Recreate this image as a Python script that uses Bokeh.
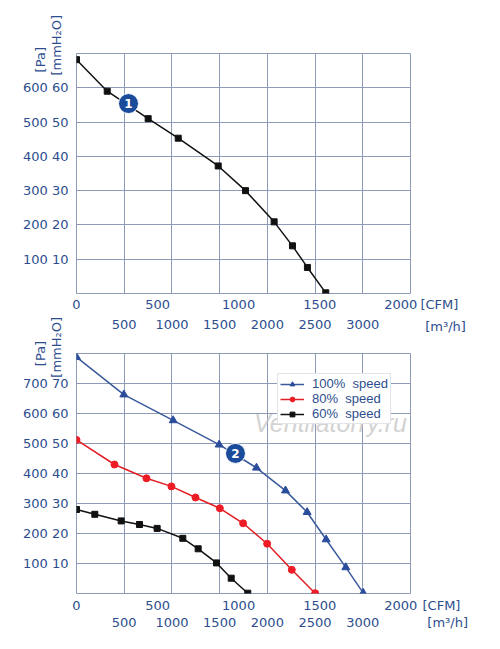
from bokeh.plotting import figure
from bokeh.models import FixedTicker, LinearAxis, Label, Range1d
from bokeh.layouts import column
from bokeh.embed import file_html
from bokeh.resources import INLINE
from bokeh.core.properties import value

# ---------------- data (x in m3/h, y in mmH2O) ----------------
fan1_flow = [0, 322, 751, 1066, 1485, 1771, 2071, 2263, 2420, 2612]
fan1_press = [68.2, 59.0, 51.0, 45.3, 37.2, 30.0, 20.9, 13.9, 7.6, 0.2]

s100_flow = [0, 496, 1013, 1495, 1886, 2190, 2417, 2616, 2822, 3004]
s100_press = [78.8, 66.3, 57.7, 49.6, 41.9, 34.3, 27.1, 18.0, 8.7, 0.2]

s80_flow = [0, 398, 733, 995, 1247, 1502, 1746, 1998, 2256, 2501]
s80_press = [51.2, 43.0, 38.4, 35.7, 32.0, 28.4, 23.4, 16.6, 7.9, 0.1]

s60_flow = [0, 192, 468, 660, 845, 1114, 1275, 1467, 1621, 1795]
s60_press = [28.0, 26.4, 24.2, 23.0, 21.7, 18.4, 14.9, 10.2, 5.1, 0.1]

m3h_ticks = [0, 500, 1000, 1500, 2000, 2500, 3000, 3500]
m3h_labels = ["", "500", "1000", "1500", "2000", "2500", "3000", ""]
cfm_values = [0, 500, 1000, 1500, 2000]
CFM_TO_M3H = 1.699

top_mm_ticks = [0, 10, 20, 30, 40, 50, 60, 70]
top_labels = ["", "100 10", "200 20", "300 30", "400 40", "500 50", "600 60", ""]
bot_mm_ticks = [0, 10, 20, 30, 40, 50, 60, 70, 80]
bot_labels = ["", "100 10", "200 20", "300 30", "400 40", "500 50", "600 60", "700 70", ""]

legend_labels = ["100%  speed", "80%  speed", "60%  speed"]

FONT = "DejaVu Sans"
TXT = "#2d4e8e"
GRID = "#8e9bb8"
NB = "\u00a0"


def style_axis(a):
    a.axis_line_color = None
    a.major_tick_line_color = None
    a.minor_tick_line_color = None
    a.major_tick_out = 0
    a.major_tick_in = 0
    a.major_label_text_color = TXT
    a.major_label_text_font = FONT
    a.major_label_text_font_size = "13px"


def style_label(a, text, standoff):
    a.axis_label = text
    a.axis_label_standoff = standoff
    a.axis_label_align = "end"
    a.axis_label_text_color = TXT
    a.axis_label_text_font = FONT
    a.axis_label_text_font_size = "13px"
    a.axis_label_text_font_style = "normal"


def m3h_axis(standoff, label, label_standoff):
    a = LinearAxis(ticker=FixedTicker(ticks=m3h_ticks),
                   major_label_overrides={t: l for t, l in zip(m3h_ticks, m3h_labels)})
    style_axis(a)
    a.major_label_standoff = standoff
    style_label(a, label, label_standoff)
    return a


def base_fig(height, ymax, yticks, ylabels, top, bottom, cfm_label, cfm_standoff, mm_label, pa_label):
    p = figure(width=500, height=height, x_range=Range1d(0, 3500), y_range=Range1d(0, ymax),
               output_backend="svg", toolbar_location=None,
               min_border_left=76, min_border_right=90, min_border_top=top, min_border_bottom=bottom)
    p.background_fill_color = "white"
    p.border_fill_color = "white"
    p.outline_line_color = GRID
    p.outline_line_width = 1

    ax = p.xaxis[0]
    cfm_pos = [c * CFM_TO_M3H for c in cfm_values]
    ax.ticker = FixedTicker(ticks=cfm_pos)
    ax.major_label_overrides = {pos: str(c) for pos, c in zip(cfm_pos, cfm_values)}
    style_axis(ax)
    ax.major_label_standoff = cfm_standoff
    style_label(ax, cfm_label, -15)

    ya = p.yaxis[0]
    ya.ticker = FixedTicker(ticks=yticks)
    ya.major_label_overrides = {t: l for t, l in zip(yticks, ylabels)}
    style_axis(ya)
    ya.major_label_standoff = 8

    mm = LinearAxis(ticker=FixedTicker(ticks=[]), axis_line_color=None)
    style_label(mm, mm_label, -43)
    p.add_layout(mm, "left")
    pa = LinearAxis(ticker=FixedTicker(ticks=[]), axis_line_color=None)
    style_label(pa, pa_label, -27)
    p.add_layout(pa, "left")

    p.xgrid.ticker = FixedTicker(ticks=m3h_ticks)
    p.ygrid.ticker = FixedTicker(ticks=yticks)
    for g in (p.xgrid, p.ygrid):
        g.grid_line_color = GRID
        g.grid_line_width = 1
    return p


def bubble(p, x, y, t):
    p.scatter([x], [y], marker="circle", size=20, fill_color="#1b4b9b", line_color="white", line_width=1)
    p.text([x], [y], text=[t], text_color="white", text_font=value(FONT), text_font_size="12px",
           text_font_style="bold", text_align="center", text_baseline="middle")


# ---------------- top chart ----------------
p1 = base_fig(314, 70, top_mm_ticks, top_labels, 53, 21, NB * 14 + "[CFM]", 6,
              NB * 4 + "[mmH₂O]", "[Pa]" + NB * 3)
p1.line(fan1_flow, fan1_press, line_color="#111111", line_width=1.5)
p1.scatter(fan1_flow, fan1_press, marker="square", size=6, fill_color="#111111", line_color="#111111")
bubble(p1, 545, 55.4, "1")

# ---------------- bottom chart ----------------
p2 = base_fig(334, 80, bot_mm_ticks, bot_labels, 39, 55, NB * 15 + "[CFM]", 7,
              NB * 3 + "[mmH₂O]", "[Pa]")
# m3/h row of the upper chart (same x scale), drawn in the band between the two charts
p2.add_layout(m3h_axis(25, NB * 17 + "[m³/h]", -17), "above")
# m3/h row of the lower chart
p2.add_layout(m3h_axis(2, NB * 18 + "[m³/h]", -15), "below")

series = [
    (s100_flow, s100_press, "#3a5a9c", "#2a4d9b", "triangle", 8),
    (s80_flow, s80_press, "#e31e24", "#ee1c25", "circle", 7),
    (s60_flow, s60_press, "#111111", "#111111", "square", 6),
]
for (fx, fy, lc, mc, mk, sz), lab in zip(series, legend_labels):
    p2.line(fx, fy, line_color=lc, line_width=1.5, legend_label=lab)
    p2.scatter(fx, fy, marker=mk, size=sz, fill_color=mc, line_color=mc, legend_label=lab)
bubble(p2, 1666, 46.7, "2")

lg = p2.legend[0]
lg.location = (201, 169)
lg.label_text_color = TXT
lg.label_text_font = "Liberation Sans"
lg.label_text_font_size = "13px"
lg.label_height = 12
lg.glyph_height = 12
lg.glyph_width = 24
lg.spacing = 0
lg.padding = 2
lg.margin = 0
lg.label_standoff = 8
lg.border_line_color = "#c5cad6"
lg.background_fill_alpha = 1.0

p2.add_layout(Label(x=254, y=171, x_units="screen", y_units="screen", text="Ventilatorry.ru",
                    text_align="center", text_baseline="middle",
                    text_color="#c4c4c4", text_alpha=0.75, text_font="Liberation Sans",
                    text_font_style="italic", text_font_size="25px"))

layout = column(p1, p2, spacing=0)
open("out.html", "w").write(file_html(layout, INLINE))
